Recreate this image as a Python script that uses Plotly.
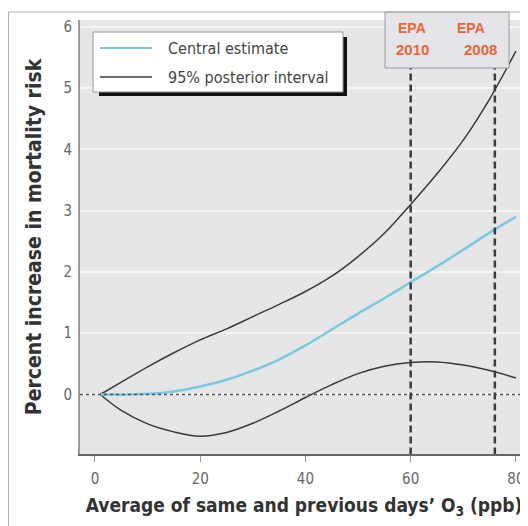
import plotly.graph_objects as go

# ---- data ----
ozone = [1, 5, 10, 15, 20, 25, 30, 35, 40, 45, 50, 55, 60, 65, 70, 75, 80]
central = [0, 0, 0.01, 0.05, 0.13, 0.24, 0.39, 0.57, 0.8, 1.06, 1.32, 1.57, 1.83, 2.09, 2.36, 2.64, 2.9]
upper = [0, 0.2, 0.45, 0.68, 0.89, 1.07, 1.27, 1.47, 1.68, 1.93, 2.25, 2.63, 3.1, 3.6, 4.15, 4.82, 5.6]
lower = [0, -0.26, -0.48, -0.61, -0.68, -0.62, -0.47, -0.27, -0.05, 0.16, 0.34, 0.46, 0.52, 0.53, 0.48, 0.39, 0.27]
epa_x = [60, 76]
epa_labels = ["2010", "2008"]
legend_names = ["Central estimate", "95% posterior interval"]
x_ticks = [0, 20, 40, 60, 80]
y_ticks = [0, 1, 2, 3, 4, 5, 6]

BLUE = "#80c6e0"
DARK = "#3a3a3a"
ORANGE = "#e8663d"
NARROW = "Noto Sans Condensed, DejaVu Sans Condensed, Liberation Sans Narrow, Liberation Sans, sans-serif"

# page has an 8px body margin, so the figure is 8px smaller than the window
W, H = 520, 518
ML, MR, MT, MB = 72, 0, 12, 72
PW, PH = W - ML - MR, H - MT - MB
PLOT_LEFT_PAGE, PLOT_BOTTOM_PAGE = 80, 454


def px(xp):
    return (xp - PLOT_LEFT_PAGE) / PW


def py(yp):
    return (PLOT_BOTTOM_PAGE - yp) / PH


fig = go.Figure()
fig.add_trace(go.Scatter(x=ozone, y=upper, mode="lines", name=legend_names[1],
                         line=dict(color=DARK, width=1.5, shape="spline", smoothing=1),
                         showlegend=False))
fig.add_trace(go.Scatter(x=ozone, y=lower, mode="lines", name=legend_names[1],
                         line=dict(color=DARK, width=1.5, shape="spline", smoothing=1),
                         showlegend=False))
fig.add_trace(go.Scatter(x=ozone, y=central, mode="lines", name=legend_names[0],
                         line=dict(color=BLUE, width=2.5, shape="spline", smoothing=1),
                         showlegend=False))

shapes = []
annotations = []

# zero reference line
shapes.append(dict(type="line", xref="paper", yref="y", x0=0, x1=1, y0=0, y1=0,
                   line=dict(color="#555", width=1.5, dash="dot"), layer="above"))

# EPA dashed lines
y_top_dash = 5.33
for xv in epa_x:
    shapes.append(dict(type="line", xref="x", yref="y", x0=xv, x1=xv, y0=-0.98, y1=y_top_dash,
                       line=dict(color="#3c3c3c", width=2.5, dash="7px,4px")))

# EPA label box
shapes.append(dict(type="rect", xref="paper", yref="paper",
                   x0=px(385), x1=px(509), y0=py(68), y1=py(12),
                   fillcolor="#e4e5e8", line=dict(color="#9a9a9a", width=1)))
epa_label_px = [(412, 412), (471, 480)]
for lab, (xe, xy) in zip(epa_labels, epa_label_px):
    annotations.append(dict(text="<b>EPA</b>", xref="paper", yref="paper", x=px(xe), y=py(28),
                            showarrow=False, xanchor="center", yanchor="middle",
                            font=dict(family="Liberation Sans, Arial, sans-serif", size=14, color=ORANGE)))
    annotations.append(dict(text="<b>" + lab + "</b>", xref="paper", yref="paper", x=px(xy), y=py(49),
                            showarrow=False, xanchor="center", yanchor="middle",
                            font=dict(family="Liberation Sans, Arial, sans-serif", size=15, color=ORANGE)))

# manual legend with shadow
shapes.append(dict(type="rect", xref="paper", yref="paper",
                   x0=px(99), x1=px(347), y0=py(96), y1=py(37),
                   fillcolor="#111", line=dict(width=0)))
shapes.append(dict(type="rect", xref="paper", yref="paper",
                   x0=px(93), x1=px(343), y0=py(92), y1=py(32),
                   fillcolor="white", line=dict(color="#999", width=1)))
for name, col, ypos in zip(legend_names, [BLUE, DARK], [48, 77]):
    shapes.append(dict(type="line", xref="paper", yref="paper",
                       x0=px(100), x1=px(152), y0=py(ypos), y1=py(ypos),
                       line=dict(color=col, width=2 if col == BLUE else 1.5)))
    annotations.append(dict(text=name, xref="paper", yref="paper", x=px(166), y=py(ypos),
                            showarrow=False, xanchor="left", yanchor="middle",
                            font=dict(family=NARROW, size=16, color="#444")))

# outer frame
shapes.append(dict(type="line", xref="paper", yref="paper", x0=px(8.5), x1=px(528), y0=py(12), y1=py(12),
                   line=dict(color="#b0b0b0", width=1)))
shapes.append(dict(type="line", xref="paper", yref="paper", x0=px(8.5), x1=px(8.5), y0=py(12), y1=py(526),
                   line=dict(color="#b0b0b0", width=1)))

fig.update_layout(
    width=W, height=H,
    margin=dict(l=ML, r=MR, t=MT, b=MB, autoexpand=False),
    paper_bgcolor="white",
    plot_bgcolor="#e5e6e8",
    shapes=shapes,
    annotations=annotations,
    showlegend=False,
    xaxis=dict(range=[-2.85, 82.3], tickvals=x_ticks, ticks="outside", ticklen=6, tickwidth=1,
               tickcolor="#999", showgrid=False, zeroline=False, showline=True,
               linecolor="#666", linewidth=2, automargin=False,
               tickfont=dict(family=NARROW, size=15, color="#666"),
               ticklabelstandoff=4,
               title=dict(text="<b>Average of same and previous days’ O<sub>3</sub> (ppb)</b>",
                          font=dict(family=NARROW, size=19, color="#333"), standoff=12)),
    yaxis=dict(range=[-0.971, 6.109], tickvals=y_ticks, ticks="", showgrid=True,
               gridcolor="#f5f5f5", gridwidth=2, zeroline=False, showline=True,
               linecolor="#999", linewidth=2, automargin=False,
               tickfont=dict(family=NARROW, size=15, color="#666"),
               ticklabelstandoff=3,
               title=dict(text="<b>Percent increase in mortality risk</b>",
                          font=dict(family=NARROW, size=21, color="#333"), standoff=16)),
)

fig.write_html("out.html")
